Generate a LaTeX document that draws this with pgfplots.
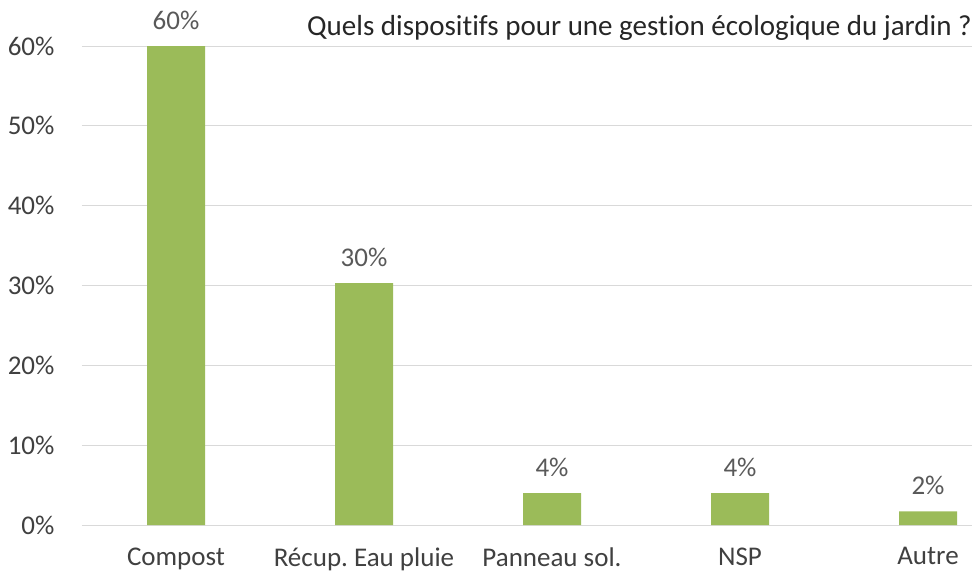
\documentclass[border=0pt]{standalone}
\usepackage{pgfplots}
\pgfplotsset{compat=1.18}
\usepackage{fontspec}
\setmainfont[Ligatures={NoCommon}]{Carlito}
\frenchspacing
\definecolor{bargreen}{HTML}{9BBB59}
\definecolor{gridgray}{HTML}{D9D9D9}
\definecolor{txtgray}{HTML}{404040}
\definecolor{lblgray}{HTML}{595959}
\definecolor{titlegray}{HTML}{262626}
\begin{document}
\begin{tikzpicture}
\path[use as bounding box] (-82pt,-51pt) rectangle (892pt,525pt);
\begin{axis}[
  at={(0,0)}, anchor=south west,
  scale only axis,
  width=890pt, height=479pt,
  xmin=-0.5, xmax=4.234,
  ymin=0, ymax=60,
  axis line style={draw=none},
  axis x line*=bottom,
  axis y line*=left,
  x axis line style={draw=gridgray, line width=1pt},
  y axis line style={draw=none},
  major tick length=0pt,
  xtick={0,1,2,3,4},
  xticklabels={Compost, Récup.\ Eau pluie, Panneau sol., NSP, Autre},
  ytick={0,10,20,30,40,50,60},
  yticklabels={0\%,10\%,20\%,30\%,40\%,50\%,60\%},
  ymajorgrids,
  grid style={gridgray, line width=1pt},
  tick label style={font=\fontsize{27}{30}\selectfont, text=txtgray},
  xticklabel style={yshift=-19pt},
  yticklabel style={xshift=-24pt},
  clip=false,
  nodes near coords,
  point meta=explicit symbolic,
  nodes near coords style={font=\fontsize{27}{30}\selectfont, text=lblgray, anchor=south, yshift=13pt},
]
\addplot[ybar, bar width=58pt, fill=bargreen, draw=none] table[meta=lab] {
x y lab
0 60 60\%
1 30.3 30\%
2 4.0 4\%
3 4.0 4\%
4 1.7 2\%
};
\node[anchor=east, font=\fontsize{29}{32}\selectfont, text=titlegray, inner sep=0pt] at ([yshift=18pt]rel axis cs:1,1) {Quels dispositifs pour une gestion écologique du jardin ?};
\end{axis}
\end{tikzpicture}
\end{document}
